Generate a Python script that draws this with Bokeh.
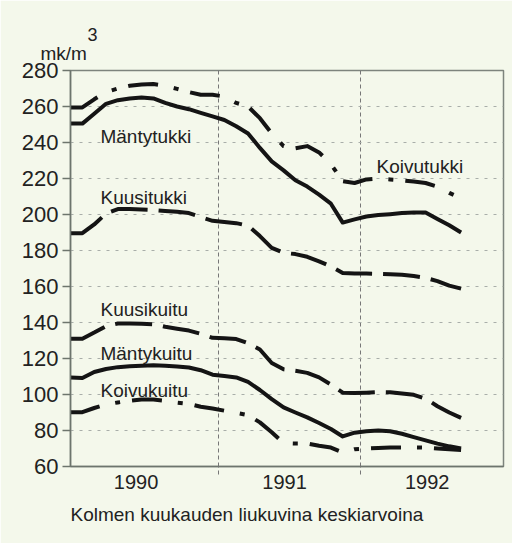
import numpy as np
from bokeh.plotting import figure
from bokeh.models import FixedTicker, Range1d, ColumnDataSource, Title
from bokeh.core.properties import value
from bokeh.embed import file_html
from bokeh.resources import INLINE

# Monthly points (three-month moving averages), Dec 1989 .. Sep 1992
month_index = np.arange(34)
x_years = 1989 + (11 + month_index + 0.5) / 12.0

mantytukki = [250.5, 250.5, 256, 261.5, 263.5, 264.5, 265, 264.5, 262, 260,
              258.5, 256.5, 254.5, 252.5, 249, 245, 237, 229.5, 224.5, 219,
              215.5, 211, 206, 195.5, 197.3, 198.9, 199.7, 200.2, 200.8, 201.1,
              201.1, 197.5, 194, 190]
koivutukki = [259.5, 259.5, 264, 268, 270, 271.5, 272.2, 272.5, 271.5, 269.8,
              268, 266.5, 266.5, 265.5, 262, 260, 253.5, 245, 238, 236.8,
              238, 234.5, 228, 218.5, 217.5, 219.5, 220, 219.5, 219, 218.3,
              217.5, 215.5, 212, 209]
kuusitukki = [189.6, 189.6, 194.5, 200.5, 203, 203, 202.8, 202.5, 202, 201.5,
              200.8, 198.5, 196.5, 195.8, 195.2, 193.8, 188, 181.5, 178.7, 178,
              176.5, 174, 171.2, 167.5, 167.2, 167.2, 167, 166.8, 166.5, 165.8,
              164.8, 163, 160.5, 158.8]
kuusikuitu = [131, 131, 134.4, 138, 139.4, 139.4, 139.3, 139, 137.6, 136.5,
              135.5, 133.7, 131.5, 131.2, 130.8, 128.5, 125, 117.5, 114, 113.2,
              112, 109.5, 105.5, 101, 100.8, 101, 101.3, 101.2, 100.6, 99.8,
              97.7, 93.5, 90, 87]
mantykuitu = [109.4, 109.2, 112.5, 114.2, 115.2, 115.7, 116, 116.2, 116, 115.6,
              115, 113.5, 111, 110.3, 109.5, 107, 102.5, 97.4, 92.8, 90,
              87.3, 84.2, 80.8, 76.7, 78.8, 79.6, 80, 79.6, 78.2, 76.3,
              74.5, 72.7, 71.2, 70]
koivukuitu = [90.2, 90.2, 92.5, 94.5, 95.6, 96.5, 97.2, 97.2, 96.5, 95.5,
              94.8, 93.2, 92.2, 91, 89.8, 88.5, 84.5, 79, 73, 72.8,
              72.8, 71.5, 70.5, 67.8, 69.6, 70, 70.3, 70.6, 70.6, 70.6,
              70.5, 70, 69.6, 69.2]

y_ticks = list(range(60, 281, 20))
year_labels = ["1990", "1991", "1992"]
year_label_pos = [1990.42, 1991.465, 1992.47]
year_bounds = [1991, 1992]

series_names = ["Mäntytukki", "Kuusitukki", "Koivutukki",
                "Kuusikuitu", "Mäntykuitu", "Koivukuitu"]
label_x = [1990.169, 1990.169, 1992.113, 1990.169, 1990.169, 1990.169]
label_y = [243.5, 209.3, 226.8, 147.2, 122.8, 102.2]

unit_text = "mk/m"
unit_sup = "3"
note_text = "Kolmen kuukauden liukuvina keskiarvoina"

BG = "#f4f8eb"
INK = "#141414"
TXT = "#222222"
FONT = "Liberation Sans"

p = figure(width=512, height=543, output_backend="svg", toolbar_location=None,
           x_range=Range1d(1989.958, 1993.007), y_range=Range1d(60, 280),
           min_border_left=70, min_border_right=9, min_border_top=70,
           min_border_bottom=77)
p.background_fill_color = BG
p.border_fill_color = BG
p.outline_line_color = "#7d847d"
p.outline_line_width = 1.5

# y axis
p.yaxis.ticker = FixedTicker(ticks=y_ticks)
p.yaxis.major_label_text_font = FONT
p.yaxis.major_label_text_font_size = "22px"
p.yaxis.major_label_text_color = TXT
p.yaxis.major_tick_in = 0
p.yaxis.major_tick_out = 8
p.yaxis.major_tick_line_color = "#6d756d"
p.yaxis.major_tick_line_width = 1.5
p.yaxis.minor_tick_line_color = None
p.yaxis.axis_line_color = "#6d756d"
p.yaxis.axis_line_width = 1.5
p.yaxis.major_label_standoff = 4

# x axis: labels at mid-year, dashed minor ticks at year boundaries
p.xaxis.ticker = FixedTicker(ticks=year_label_pos, minor_ticks=year_bounds)
p.xaxis.major_label_overrides = {pos: lab for pos, lab in zip(year_label_pos, year_labels)}
p.xaxis.major_label_text_font = FONT
p.xaxis.major_label_text_font_size = "20px"
p.xaxis.major_label_text_color = TXT
p.xaxis.major_tick_in = 0
p.xaxis.major_tick_out = 0
p.xaxis.minor_tick_in = 0
p.xaxis.minor_tick_out = 8
p.xaxis.minor_tick_line_color = "#777777"
p.xaxis.minor_tick_line_dash = "4 3"
p.xaxis.axis_line_color = "#6d756d"
p.xaxis.axis_line_width = 1.5
p.xaxis.major_label_standoff = 0

# grids
p.ygrid.grid_line_color = "#a9aea9"
p.ygrid.grid_line_dash = "3 6"
p.ygrid.grid_line_width = 1
p.xgrid.ticker = FixedTicker(ticks=year_bounds)
p.xgrid.grid_line_color = "#777777"
p.xgrid.grid_line_dash = "4 3"
p.xgrid.grid_line_width = 1

dashdot = "30 16 5 12"
dashed = "37 11"
lw = 4
p.line(x_years, koivutukki, line_color=INK, line_width=lw, line_dash=dashdot, line_join="round")
p.line(x_years, mantytukki, line_color=INK, line_width=lw, line_join="round")
p.line(x_years, kuusitukki, line_color=INK, line_width=lw, line_dash=dashed, line_join="round")
p.line(x_years, kuusikuitu, line_color=INK, line_width=lw, line_dash=dashed, line_join="round")
p.line(x_years, mantykuitu, line_color=INK, line_width=lw, line_join="round")
p.line(x_years, koivukuitu, line_color=INK, line_width=lw, line_dash=dashdot, line_join="round")

src = ColumnDataSource(dict(x=label_x, y=label_y, t=series_names))
p.text(x="x", y="y", text="t", source=src, text_font=value(FONT),
       text_font_size="19px", text_color=TXT, text_baseline="alphabetic",
       text_align="left")

t_unit = Title(text=unit_text, align="left", offset=-30, standoff=14,
               text_font=FONT, text_font_size="19px", text_color=TXT,
               text_font_style="normal")
t_sup = Title(text=unit_sup, align="left", offset=17, standoff=-15,
              text_font=FONT, text_font_size="18px", text_color=TXT,
              text_font_style="normal")
p.add_layout(t_unit, "above")
p.add_layout(t_sup, "above")

t_note = Title(text=note_text, align="left", offset=0, standoff=20,
               text_font=FONT, text_font_size="19px", text_color=TXT,
               text_font_style="normal")
p.add_layout(t_note, "below")

open("out.html", "w").write(file_html(p, INLINE))
